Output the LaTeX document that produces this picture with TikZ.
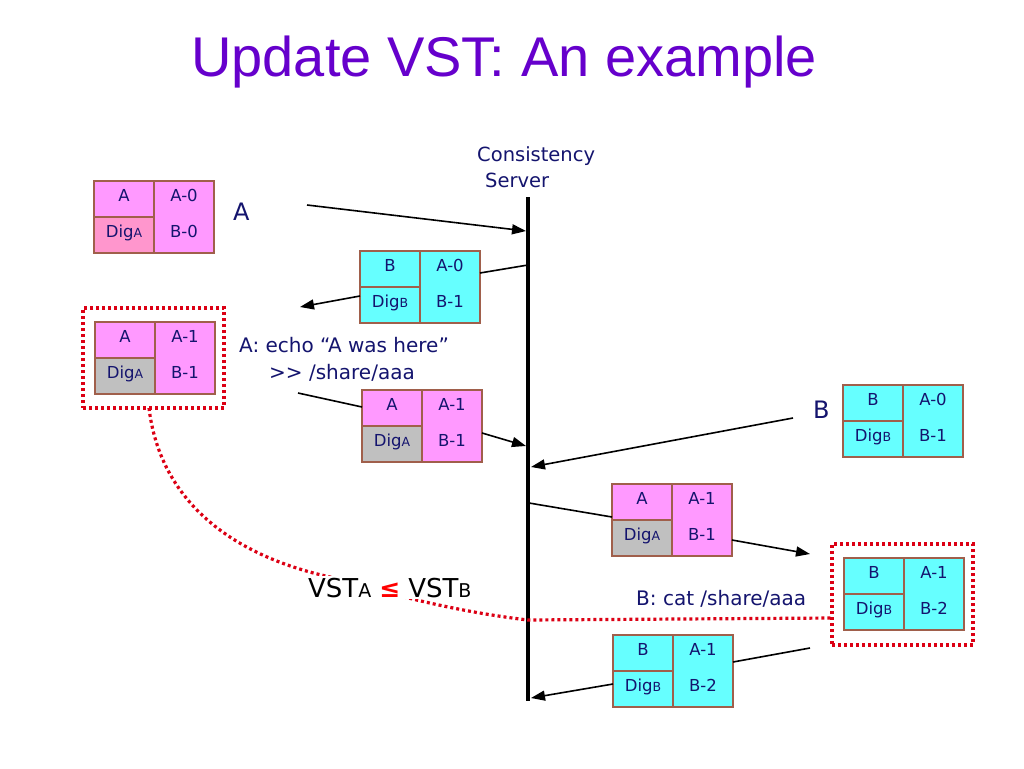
\documentclass[tikz,border=0pt]{standalone}
\usepackage{fontspec}
\setmainfont{DejaVu Sans}
\newfontfamily\titlefont{Liberation Sans}
\usetikzlibrary{arrows.meta}
\definecolor{navy}{RGB}{20,20,110}
\definecolor{ttl}{RGB}{102,0,204}
\definecolor{pnk}{RGB}{255,153,255}
\definecolor{salm}{RGB}{255,150,205}
\definecolor{cyn}{RGB}{102,255,255}
\definecolor{gry}{RGB}{192,192,192}
\definecolor{brd}{RGB}{160,95,75}
\definecolor{dotred}{RGB}{220,0,20}
\newcommand\fs[1]{\fontsize{#1}{#1}\selectfont}
\tikzset{
 cell/.style={draw=brd, line width=1.5pt, inner sep=0pt, outer sep=0pt,
   minimum width=60pt, minimum height=36pt, anchor=north west,
   text=navy, font=\fs{16.5}, text height=12pt, text depth=8pt},
 rcell/.style={cell, minimum height=72pt},
 ctxt/.style={text=navy, font=\fs{16.5}, inner sep=0pt, text height=12pt, text depth=8pt},
 lbl/.style={text=navy, inner sep=0pt, anchor=base west},
 conn/.style={line width=1.6pt, draw=black},
 arr/.style={conn, -{Triangle[length=14pt,width=10pt]}},
 reddot/.style={draw=dotred, line width=3.2pt, dash pattern=on 3pt off 3pt},
 hlbox/.style={reddot, inner sep=0pt, outer sep=0pt, anchor=north west},
}
\newcommand\vstbox[9]{%
 \node[cell, fill=#4] (#1-tl) at (#2,#3) {#7};
 \node[cell, fill=#5] (#1-bl) at (#1-tl.south west) {Dig{\fs{12.5}#7}};
 \node[rcell, fill=#6] (#1-r) at (#1-tl.north east) {};
 \node[ctxt] (#1-rt) at ([yshift=18pt]#1-r.center) {#8};
 \node[ctxt] (#1-rb) at ([yshift=-18pt]#1-r.center) {#9};
}
\begin{document}
\begin{tikzpicture}[x=1pt,y=-1pt]
\useasboundingbox (0,0) rectangle (1024,768);
\fill[white] (0,0) rectangle (1024,768);

\node[font=\titlefont\fs{56}, text=ttl, anchor=base, inner sep=0pt] (title) at (504,77) {Update VST: An example};

\node[lbl, font=\fs{19.5}] (cons) at (477,161) {Consistency};
\node[lbl, font=\fs{19.5}] (serv) at (485,187) {Server};

% server line
\coordinate (srvT) at (528,197);
\coordinate (srvB) at (528,701);
\draw[line width=4.5pt] (srvT) -- (srvB);

% highlight boxes
\node[hlbox, minimum width=141pt, minimum height=100pt] (hl1) at (83,308) {};
\node[hlbox, minimum width=141pt, minimum height=101pt] (hl2) at (832,544) {};

% boxes
\vstbox{b1}{94}{181}{pnk}{salm}{pnk}{A}{A-0}{B-0}
\vstbox{b2}{360}{251}{cyn}{cyn}{cyn}{B}{A-0}{B-1}
\vstbox{b3}{95}{322}{pnk}{gry}{pnk}{A}{A-1}{B-1}
\vstbox{b4}{362}{390}{pnk}{gry}{pnk}{A}{A-1}{B-1}
\vstbox{b5}{843}{385}{cyn}{cyn}{cyn}{B}{A-0}{B-1}
\vstbox{b6}{612}{484}{pnk}{gry}{pnk}{A}{A-1}{B-1}
\vstbox{b7}{844}{558}{cyn}{cyn}{cyn}{B}{A-1}{B-2}
\vstbox{b8}{613}{635}{cyn}{cyn}{cyn}{B}{A-1}{B-2}

% labels
\node[lbl, font=\fs{24}] (lblA) at (233,220) {A};
\node[lbl, font=\fs{24}] (lblB) at (813,418) {B};
\node[lbl, font=\fs{20}] (echo1) at (239,352) {A: echo “A was here”};
\node[lbl, font=\fs{20}] (echo2) at (269,379) {>\kern0pt> /share/aaa};
\node[lbl, font=\fs{20}] (cat) at (636,605) {B: cat /share/aaa};

% connectors
\coordinate (a1) at (307,205);
\coordinate (s1) at (526,231);
\draw[arr] (a1) -- (s1);

\coordinate (s2) at (528,265);
\coordinate (b2in) at (480,273);
\coordinate (b2out) at (360,296);
\coordinate (a2) at (300,307);
\draw[conn] (s2) -- (b2in);
\draw[arr] (b2out) -- (a2);

\coordinate (a3) at (298,393);
\coordinate (b4in) at (362,407);
\coordinate (b4out) at (482,433);
\coordinate (s3) at (526,446);
\draw[conn] (a3) -- (b4in);
\draw[arr] (b4out) -- (s3);

\coordinate (a4) at (793,418);
\coordinate (s4) at (531,467);
\draw[arr] (a4) -- (s4);

\coordinate (s5) at (529,503);
\coordinate (b6in) at (612,517);
\coordinate (b6out) at (732,540);
\coordinate (a5) at (810,554);
\draw[conn] (s5) -- (b6in);
\draw[arr] (b6out) -- (a5);

\coordinate (a6) at (810,648);
\coordinate (b8in) at (733,662);
\coordinate (b8out) at (613,684);
\coordinate (s6) at (531,698);
\draw[conn] (a6) -- (b8in);
\draw[arr] (b8out) -- (s6);

% red dotted relation curve
\coordinate (hl1b) at (149,408);
\coordinate (hl2l) at (832,618);
\draw[reddot] (hl1b) .. controls (160,500) and (230,555) .. (330,577)
  .. controls (400,597) and (460,612) .. (528,620) -- (hl2l);

\node[anchor=base west, inner sep=2pt, fill=white, text=black] (vst) at (306,597)
 {{\fs{26}VST}{\fs{19}A}\hspace{8pt}{\color{red}\bfseries\fs{25}≤}\hspace{8pt}{\fs{26}VST}{\fs{19}B}};
\end{tikzpicture}
\end{document}
